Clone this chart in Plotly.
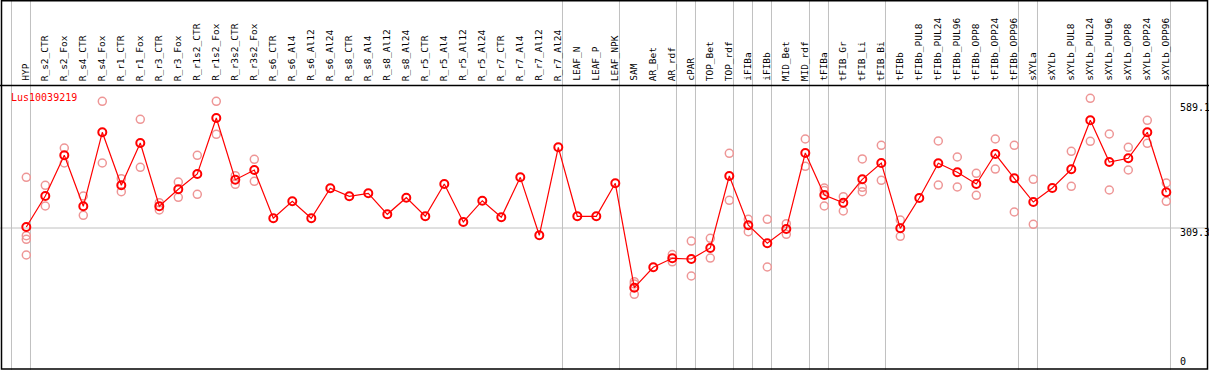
import plotly.graph_objects as go

categories = ["HYP", "R_s2_CTR", "R_s2_Fox", "R_s4_CTR", "R_s4_Fox", "R_r1_CTR", "R_r1_Fox",
              "R_r3_CTR", "R_r3_Fox", "R_r1s2_CTR", "R_r1s2_Fox", "R_r3s2_CTR", "R_r3s2_Fox",
              "R_s6_CTR", "R_s6_Al4", "R_s6_Al12", "R_s6_Al24", "R_s8_CTR", "R_s8_Al4", "R_s8_Al12",
              "R_s8_Al24", "R_r5_CTR", "R_r5_Al4", "R_r5_Al12", "R_r5_Al24", "R_r7_CTR", "R_r7_Al4",
              "R_r7_Al12", "R_r7_Al24", "LEAF_N", "LEAF_P", "LEAF_NPK", "SAM", "AR_Bet", "AR_rdf",
              "cPAR", "TOP_Bet", "TOP_rdf", "iFIBa", "iFIBb", "MID_Bet", "MID_rdf", "tFIBa",
              "tFIB_Gr", "tFIB_Li", "tFIB_Bi", "tFIBb", "tFIBb_PUL8", "tFIBb_PUL24", "tFIBb_PUL96",
              "tFIBb_OPP8", "tFIBb_OPP24", "tFIBb_OPP96", "sXYLa", "sXYLb", "sXYLb_PUL8",
              "sXYLb_PUL24", "sXYLb_PUL96", "sXYLb_OPP8", "sXYLb_OPP24", "sXYLb_OPP96"]

mean_values = [311.6, 383.3, 477.4, 359.5, 530.6, 408.1, 505.9, 359.5, 398.8, 434.2, 563.7,
               421.0, 443.4, 331.7, 371.0, 331.7, 401.1, 382.6, 389.5, 341.0, 379.4, 336.4,
               411.1, 323.2, 372.4, 334.0, 426.5, 292.4, 495.9, 336.4, 336.4, 412.7, 171.3,
               218.4, 239.2, 237.6, 263.1, 429.6, 315.6, 273.9, 307.0, 482.7, 385.6, 367.8,
               421.9, 459.6, 308.6, 378.7, 458.9, 438.1, 411.1, 480.4, 424.2, 369.4, 401.8,
               445.0, 558.4, 461.9, 470.5, 530.6, 391.9]

replicates = [
    [426.5, 291.5, 283.2, 246.9], [408.1, 360.2], [494.3, 459.6], [383.3, 338.7],
    [602.3, 459.6], [423.3, 393.3], [560.7, 449.7], [367.8, 350.9], [415.7, 380.3],
    [477.4, 387.2], [602.3, 526.0], [430.3, 410.4], [468.2, 417.3],
    [], [], [], [], [], [], [], [], [], [], [], [], [], [], [], [], [], [], [],
    [185.1, 180.0, 156.0], [], [248.0, 231.1], [279.2, 198.3], [285.5, 239.9],
    [482.0, 373.4], [329.4, 300.8], [329.4, 219.1], [319.3, 294.7], [515.1, 452.0],
    [401.8, 396.0, 360.2], [381.7, 348.6], [468.9, 403.4, 393.3], [500.5, 419.6],
    [327.8, 290.1], [], [510.5, 408.7], [473.5, 404.1], [435.8, 384.9], [515.1, 445.7],
    [500.5, 346.3], [421.9, 317.9], [], [486.7, 405.7], [609.2, 509.8], [526.7, 397.2],
    [495.9, 443.4], [558.4, 505.2], [413.4, 371.0],
]

group_ends = [-1, 0, 28, 31, 34, 35, 37, 38, 39, 41, 42, 45, 52, 53, 60]
y_ticks = [0, 309.3, 589.1]
y_tick_labels = ["0", "309.3", "589.1"]
gene_name = "Lus10039219"

W, H = 1209, 370
xs = list(range(len(categories)))
rep_x, rep_y = [], []
for i, reps in enumerate(replicates):
    for r in reps:
        rep_x.append(i)
        rep_y.append(r)

fig = go.Figure()
fig.add_trace(go.Scatter(
    x=rep_x, y=rep_y, mode="markers",
    marker=dict(symbol="circle-open", size=8, color="rgb(238,150,150)",
                line=dict(width=1.5, color="rgb(238,150,150)")),
    hoverinfo="skip"))
fig.add_trace(go.Scatter(
    x=xs, y=mean_values, mode="lines+markers",
    line=dict(color="#ff0000", width=1.2),
    marker=dict(symbol="circle-open", size=8, color="#ff0000",
                line=dict(width=2, color="#ff0000"))))

shapes = []
# vertical group separators
for g in group_ends:
    shapes.append(dict(type="line", xref="x", yref="paper", x0=g + 0.22, x1=g + 0.22,
                       y0=0, y1=1, line=dict(color="#c0c0c0", width=1), layer="below"))
# horizontal reference line at 309.3
shapes.append(dict(type="line", xref="paper", yref="y", x0=0, x1=1, y0=309.3, y1=309.3,
                   line=dict(color="#c0c0c0", width=1), layer="below"))
# header separator
shapes.append(dict(type="line", xref="paper", yref="paper", x0=0, x1=1,
                   y0=1 - 85.5 / H, y1=1 - 85.5 / H, line=dict(color="black", width=1.5)))
# frame
shapes.append(dict(type="rect", xref="paper", yref="paper", x0=1.5 / W, x1=1 - 1.5 / W,
                   y0=1.0 / H, y1=1 - 0.8 / H, line=dict(color="black", width=1.5)))

annotations = []
for i, c in enumerate(categories):
    annotations.append(dict(x=i, xref="x", y=1 - 83 / H, yref="paper", text=c,
                            textangle=-90, showarrow=False, xanchor="center", yanchor="bottom",
                            xshift=-1,
                            font=dict(family="DejaVu Sans Mono", size=9.5, color="black")))
tick_shift = {"0": 0, "309.3": -4, "589.1": 0}
for v, t in zip(y_ticks, y_tick_labels):
    annotations.append(dict(x=1178 / W, xref="paper", y=v, yref="y", text=t, showarrow=False,
                            xanchor="left", yanchor="middle", yshift=tick_shift[t],
                            font=dict(family="DejaVu Sans Mono", size=10, color="black")))
annotations.append(dict(x=9 / W, xref="paper", y=1 - 97 / H, yref="paper", text=gene_name,
                        showarrow=False, xanchor="left", yanchor="middle",
                        font=dict(family="DejaVu Sans Mono", size=10, color="#ff0000")))

# axis ranges: category i at 26.3 + 19*i px; value v at 361.76 - 0.43245*v px
x0 = -26.3 / 19
x1 = x0 + W / 19
ypx = 0.43245
y0v = -(H - 361.76) / ypx
y1v = 361.76 / ypx

fig.update_layout(
    width=W, height=H, margin=dict(l=0, r=0, t=0, b=0, pad=0),
    paper_bgcolor="white", plot_bgcolor="white", showlegend=False,
    xaxis=dict(range=[x0, x1], showgrid=False, zeroline=False, showticklabels=False,
               showline=False, fixedrange=True),
    yaxis=dict(range=[y0v, y1v], showgrid=False, zeroline=False, showticklabels=False,
               showline=False, fixedrange=True),
    shapes=shapes, annotations=annotations,
)

fig.write_html("out.html", config={"displayModeBar": False, "staticPlot": True},
               post_script="document.body.style.margin='0';document.body.style.padding='0';"
                           "document.body.style.overflow='hidden';")
